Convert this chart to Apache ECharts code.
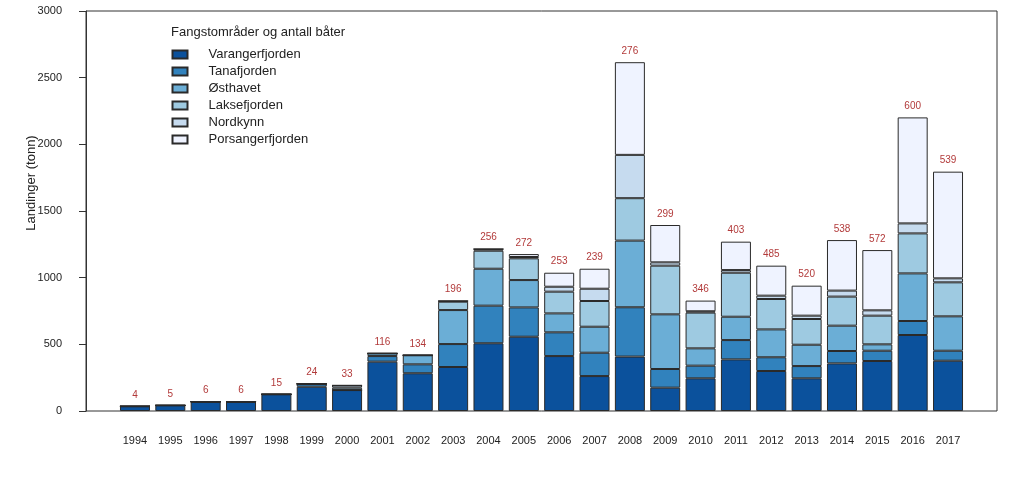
<!DOCTYPE html>
<html>
<head>
<meta charset="utf-8">
<script src="https://cdn.jsdelivr.net/npm/echarts@6/dist/echarts.min.js"></script>
<style>
html,body{margin:0;padding:0;background:#fff;}
#chart{width:1024px;height:479px;}
</style>
</head>
<body>
<div id="chart"></div>
<script>
const years = ['1994','1995','1996','1997','1998','1999','2000','2001','2002','2003','2004','2005','2006','2007','2008','2009','2010','2011','2012','2013','2014','2015','2016','2017'];
const varangerfjorden = [35,42,70,70,125,182,157,370,283,330,508,557,412,262,408,175,245,387,300,245,357,375,570,377];
const tanafjorden     = [0,0,0,0,0,22,0,42,67,172,282,220,178,175,370,140,95,145,103,92,93,77,105,75];
const osthavet        = [0,0,0,0,0,0,0,20,68,255,277,205,142,195,500,410,130,175,209,160,190,48,357,258];
const laksefjorden    = [0,0,0,0,0,0,18,0,0,63,135,163,163,193,318,365,268,330,228,193,218,215,300,255];
const nordkynn        = [0,0,0,0,0,0,17,0,0,5,13,10,37,92,325,25,10,20,25,25,45,40,75,30];
const porsangerfjorden= [0,0,0,0,0,0,0,0,0,0,0,22,105,150,695,280,80,213,225,225,379,452,795,800];
const boats = [4,5,6,6,15,24,33,116,134,196,256,272,253,239,276,299,346,403,485,520,538,572,600,539];
const seriesNames = ['Varangerfjorden','Tanafjorden','Østhavet','Laksefjorden','Nordkynn','Porsangerfjorden'];
const seriesData = [varangerfjorden,tanafjorden,osthavet,laksefjorden,nordkynn,porsangerfjorden];
const colors = ['#0b519c','#3182bd','#6baed6','#9ecae1','#c6dbef','#eff3ff'];
const yTicks = {min:0,max:3000,interval:500};

const font = 'Liberation Sans, Arial, sans-serif';
const chart = echarts.init(document.getElementById('chart'), null, {renderer:'canvas'});

const series = seriesNames.map((name,i)=>({
  name: name,
  type: 'bar',
  stack: 'total',
  xAxisIndex: 1,
  yAxisIndex: 1,
  barWidth: 30,
  data: seriesData[i],
  itemStyle: {color: colors[i], borderColor: '#2a2a2a', borderWidth: 1},
  emphasis: {disabled: true},
  animation: false,
  label: i === seriesNames.length-1 ? {
    show: true,
    position: 'top',
    distance: 6,
    fontSize: 10,
    fontFamily: font,
    color: '#b23a3a',
    formatter: p => String(boats[p.dataIndex])
  } : {show:false}
}));

chart.setOption({
  animation: false,
  backgroundColor: '#fff',
  title: {
    text: 'Fangstområder og antall båter',
    left: 166, top: 21,
    textStyle: {fontSize: 13, fontWeight: 'normal', color: '#222', fontFamily: font}
  },
  legend: {
    data: seriesNames,
    orient: 'vertical',
    left: 166.5, top: 43,
    itemWidth: 15, itemHeight: 8,
    itemGap: 4,
    icon: 'rect',
    textStyle: {fontSize: 13, color: '#222', fontFamily: font, padding: [0,0,0,16]}
  },
  grid: [
    {left: 86, right: 27, top: 11, bottom: 68, show: true, borderColor: '#333', borderWidth: 1, backgroundColor: 'transparent'},
    {left: 117.3, right: 58.3, top: 11, bottom: 68}
  ],
  xAxis: [
    {gridIndex: 0, type: 'value', min: 0, max: 1, show: false},
    {gridIndex: 1, type: 'category', data: years, axisLine: {show: false}, axisTick: {show: false},
     axisLabel: {fontSize: 11, color: '#222', fontFamily: font, margin: 24, interval: 0}}
  ],
  yAxis: [
    {gridIndex: 0, type: 'value', min: yTicks.min, max: yTicks.max, interval: yTicks.interval,
     axisLine: {show: true, lineStyle: {color: '#333'}},
     axisTick: {show: true, length: 7, lineStyle: {color: '#333'}},
     splitLine: {show: false},
     axisLabel: {fontSize: 11, color: '#222', fontFamily: font, margin: 24, formatter: v => String(v)},
     name: 'Landinger (tonn)', nameLocation: 'middle', nameGap: 48, nameMoveOverlap: false,
     nameTextStyle: {fontSize: 13, color: '#222', fontFamily: font, padding: [0,0,0,56]}},
    {gridIndex: 1, type: 'value', min: yTicks.min, max: yTicks.max, show: false}
  ],
  series: series
});
</script>
</body>
</html>
